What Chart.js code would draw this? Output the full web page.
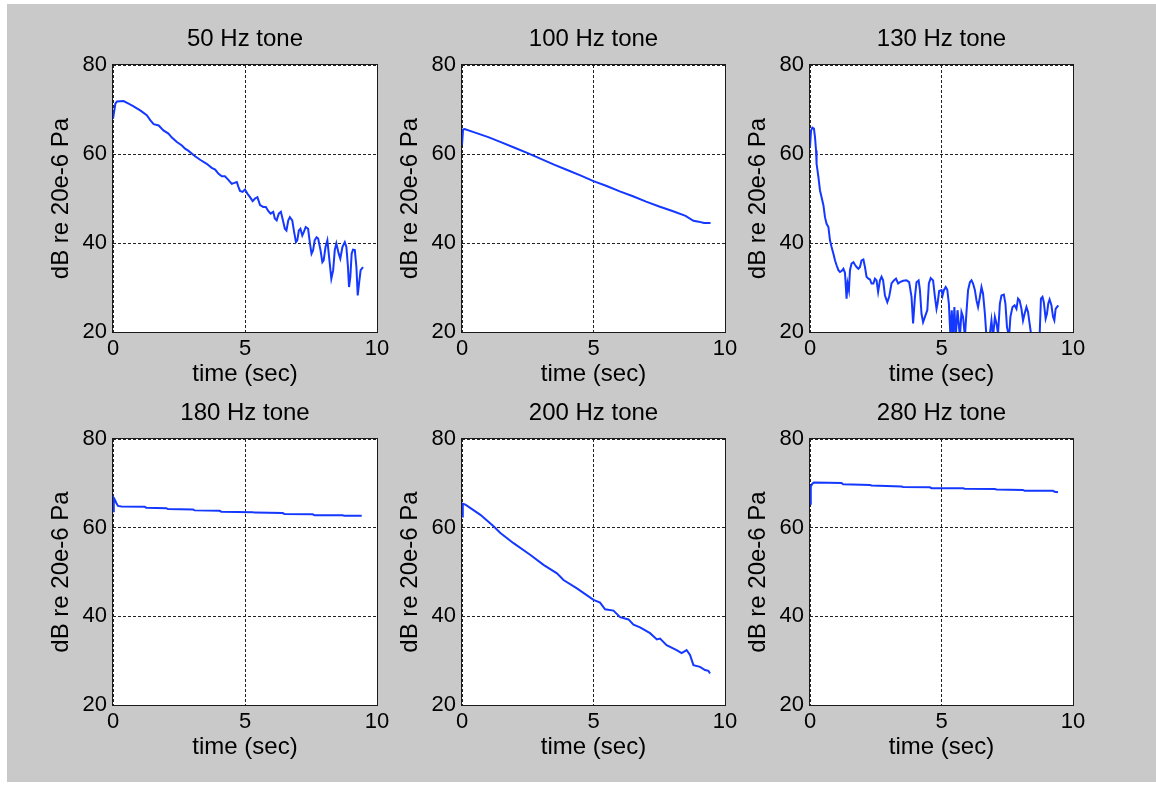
<!DOCTYPE html>
<html>
<head>
<meta charset="utf-8">
<script src="https://cdn.jsdelivr.net/npm/chart.js@4/dist/chart.umd.min.js"></script>
<style>
  html, body { margin: 0; padding: 0; background: #ffffff; width: 1156px; height: 789px; overflow: hidden; }
  #bg { position: absolute; left: 7px; top: 4px; width: 1149px; height: 778px; background: #c9c9c9; }
  canvas { position: absolute; }
</style>
</head>
<body>
<div id="bg"></div>
<canvas id="c1" width="350" height="367" style="left:43px;top:23px"></canvas>
<canvas id="c2" width="349" height="367" style="left:392px;top:23px"></canvas>
<canvas id="c3" width="349" height="367" style="left:740px;top:23px"></canvas>
<canvas id="c4" width="350" height="366" style="left:43px;top:397px"></canvas>
<canvas id="c5" width="349" height="366" style="left:392px;top:397px"></canvas>
<canvas id="c6" width="349" height="366" style="left:740px;top:397px"></canvas>
<script>
// ---- data (time in seconds, level in dB re 20e-6 Pa) ----
const titles = ["50 Hz tone", "100 Hz tone", "130 Hz tone", "180 Hz tone", "200 Hz tone", "280 Hz tone"];
const xTitle = "time (sec)";
const yTitle = "dB re 20e-6 Pa";

const t50  = [0, 0.09, 0.15, 0.40, 0.59, 0.78, 1.03, 1.28, 1.41, 1.54, 1.73, 1.91, 2.10, 2.23, 2.42, 2.61, 2.73, 2.86, 3.11, 3.30, 3.55, 3.74, 3.87, 3.99, 4.12, 4.24, 4.37, 4.50, 4.60, 4.69, 4.75, 4.81, 4.91, 5.00, 5.09, 5.19, 5.29, 5.38, 5.47, 5.57, 5.69, 5.79, 5.88, 5.97, 6.07, 6.13, 6.20, 6.28, 6.36, 6.42, 6.51, 6.57, 6.64, 6.70, 6.79, 6.86, 6.93, 6.98, 7.04, 7.10, 7.17, 7.23, 7.30, 7.39, 7.46, 7.52, 7.58, 7.64, 7.71, 7.77, 7.86, 7.93, 7.98, 8.05, 8.12, 8.21, 8.27, 8.34, 8.40, 8.46, 8.55, 8.61, 8.69, 8.78, 8.84, 8.90, 8.94, 8.99, 9.04, 9.09, 9.16, 9.22, 9.27, 9.32, 9.38, 9.47];
const db50 = [67.9, 71.3, 71.8, 71.9, 71.3, 70.7, 69.8, 68.7, 67.6, 66.7, 66.4, 65.3, 64.6, 63.7, 62.7, 61.9, 61.2, 60.7, 59.5, 58.7, 57.8, 56.9, 56.5, 55.6, 55.0, 55.0, 54.2, 53.3, 53.5, 53.7, 52.6, 51.7, 51.5, 52.0, 51.1, 50.3, 49.4, 50.0, 50.3, 48.5, 48.1, 48.1, 47.2, 46.6, 47.0, 45.5, 45.1, 46.6, 47.0, 45.5, 43.2, 42.8, 45.1, 45.8, 45.1, 42.5, 40.2, 40.6, 42.8, 43.2, 41.7, 42.5, 43.6, 43.2, 39.9, 37.6, 38.4, 40.6, 41.3, 41.0, 38.4, 35.7, 36.1, 39.1, 40.6, 35.4, 32.0, 33.9, 38.4, 39.9, 37.6, 36.5, 39.1, 40.2, 39.1, 34.6, 30.1, 32.4, 37.6, 38.5, 38.4, 34.6, 28.2, 30.9, 33.9, 34.6];

const t100  = [0, 0.04, 0.1, 0.5, 1.0, 1.5, 2.0, 2.5, 3.0, 3.5, 4.0, 4.5, 5.0, 5.5, 6.0, 6.5, 7.0, 7.5, 8.0, 8.5, 8.8, 9.0, 9.2, 9.45];
const db100 = [62.0, 65.5, 65.6, 64.8, 63.8, 62.6, 61.4, 60.2, 58.9, 57.6, 56.4, 55.2, 53.9, 52.8, 51.6, 50.5, 49.3, 48.2, 47.2, 46.1, 45.0, 44.8, 44.5, 44.5];

const t130  = [0, 0.04, 0.09, 0.15, 0.19, 0.23, 0.25, 0.32, 0.38, 0.44, 0.51, 0.57, 0.63, 0.70, 0.76, 0.82, 0.89, 0.95, 1.01, 1.08, 1.14, 1.20, 1.27, 1.33, 1.39, 1.43, 1.48, 1.52, 1.58, 1.65, 1.71, 1.77, 1.84, 1.90, 1.96, 2.03, 2.09, 2.15, 2.22, 2.28, 2.34, 2.41, 2.47, 2.53, 2.59, 2.66, 2.72, 2.78, 2.85, 2.94, 3.01, 3.10, 3.19, 3.27, 3.35, 3.42, 3.54, 3.67, 3.77, 3.86, 3.92, 3.99, 4.05, 4.13, 4.18, 4.24, 4.30, 4.37, 4.46, 4.52, 4.59, 4.68, 4.75, 4.81, 4.85, 4.91, 5.00, 5.04, 5.09, 5.16, 5.22, 5.28, 5.34, 5.39, 5.44, 5.49, 5.54, 5.61, 5.70, 5.76, 5.82, 5.89, 5.95, 6.01, 6.08, 6.14, 6.20, 6.27, 6.33, 6.39, 6.46, 6.52, 6.58, 6.65, 6.71, 6.84, 6.90, 6.96, 7.03, 7.09, 7.15, 7.22, 7.28, 7.37, 7.43, 7.49, 7.57, 7.62, 7.70, 7.78, 7.85, 7.91, 7.97, 8.04, 8.10, 8.16, 8.23, 8.29, 8.35, 8.42, 8.61, 8.73, 8.78, 8.84, 8.89, 8.96, 9.01, 9.06, 9.11, 9.18, 9.24, 9.29, 9.34, 9.39, 9.44];
const db130 = [61.6, 65.3, 65.9, 65.7, 63.8, 60.8, 57.8, 54.8, 51.8, 50.3, 48.5, 45.8, 44.3, 43.6, 40.6, 39.1, 37.6, 36.1, 35.0, 33.9, 33.5, 33.7, 34.2, 33.3, 27.5, 30.9, 29.4, 33.9, 35.4, 35.7, 35.1, 34.6, 34.2, 34.6, 36.1, 36.3, 34.6, 32.4, 32.0, 31.8, 30.9, 30.9, 32.0, 31.6, 29.0, 31.6, 32.4, 31.6, 28.2, 26.7, 27.9, 30.9, 31.6, 32.0, 30.9, 31.2, 31.5, 31.6, 31.2, 27.9, 21.9, 27.9, 31.2, 31.6, 29.4, 24.1, 22.2, 23.4, 24.9, 30.9, 32.1, 31.6, 27.9, 25.2, 26.4, 29.2, 29.4, 28.2, 29.4, 30.1, 29.5, 26.4, 18.9, 24.9, 18.9, 25.6, 18.9, 24.9, 18.9, 24.5, 23.4, 18.9, 24.5, 29.4, 31.2, 31.6, 30.9, 29.4, 27.1, 25.6, 27.9, 30.1, 28.6, 24.1, 18.9, 19.6, 22.6, 18.9, 23.4, 21.9, 19.6, 26.4, 28.2, 28.4, 26.4, 21.1, 18.9, 23.4, 25.6, 26.0, 25.2, 27.5, 27.1, 25.2, 22.6, 24.1, 25.6, 24.5, 21.9, 18.9, 18.0, 18.9, 27.5, 27.9, 26.7, 23.0, 24.1, 26.4, 27.3, 26.0, 23.4, 22.6, 25.2, 25.6, 26.0];

const t180  = [0, 0.03, 0.06, 0.13, 0.19, 0.32, 1.20, 1.26, 2.02, 2.08, 3.03, 3.09, 4.04, 4.10, 5.30, 5.36, 6.43, 6.49, 7.57, 7.63, 8.70, 8.76, 9.42];
const db180 = [63.7, 66.7, 66.4, 65.5, 64.9, 64.8, 64.7, 64.5, 64.4, 64.2, 64.1, 63.9, 63.8, 63.6, 63.5, 63.4, 63.3, 63.1, 63.0, 62.8, 62.8, 62.7, 62.7];

const t200  = [0, 0.03, 0.13, 0.70, 1.20, 1.46, 1.96, 2.59, 3.10, 3.61, 3.86, 4.37, 5.00, 5.25, 5.44, 5.76, 6.01, 6.33, 6.52, 6.77, 7.15, 7.41, 7.53, 7.78, 8.16, 8.35, 8.54, 8.67, 8.80, 9.05, 9.24, 9.37, 9.43];
const db200 = [62.5, 65.4, 65.2, 62.9, 60.3, 58.8, 56.5, 53.9, 51.6, 49.7, 48.2, 46.3, 43.7, 43.1, 41.6, 41.3, 39.8, 39.3, 38.1, 37.5, 36.2, 34.8, 35.0, 33.5, 32.4, 31.7, 32.4, 31.3, 29.0, 28.6, 27.9, 27.7, 27.1];

const t280  = [0, 0.03, 0.09, 0.15, 1.20, 1.26, 2.28, 2.34, 3.48, 3.54, 4.56, 4.62, 5.82, 5.88, 7.03, 7.09, 8.10, 8.16, 9.24, 9.30, 9.43];
const db280 = [65.4, 69.3, 69.9, 70.2, 70.1, 69.8, 69.6, 69.5, 69.3, 69.2, 69.1, 68.9, 68.9, 68.8, 68.7, 68.6, 68.5, 68.3, 68.3, 68.1, 68.0];

const series = [[t50, db50], [t100, db100], [t130, db130], [t180, db180], [t200, db200], [t280, db280]];

// ---- rendering ----
const FONT = "'Liberation Sans', Arial, Helvetica, sans-serif";
const frame = {
  id: 'frame',
  beforeDraw(chart) {
    const a = chart.chartArea, ctx = chart.ctx;
    ctx.save();
    ctx.fillStyle = '#ffffff';
    ctx.fillRect(a.left, a.top, a.right - a.left, a.bottom - a.top);
    ctx.restore();
  },
  afterDraw(chart) {
    const a = chart.chartArea, ctx = chart.ctx;
    ctx.save();
    ctx.strokeStyle = '#1a1a1a';
    ctx.lineWidth = 1;
    const l = Math.round(a.left) - 0.5, t = Math.round(a.top) - 0.5;
    const r = Math.round(a.right) + 0.5, b = Math.round(a.bottom) + 0.5;
    ctx.strokeRect(l, t, r - l, b - t);
    ctx.restore();
  }
};

function makeChart(id, idx) {
  const [tx, ty] = series[idx];
  const pts = tx.map((x, i) => ({x: x, y: ty[i]}));
  new Chart(document.getElementById(id), {
    type: 'line',
    data: { datasets: [{ data: pts, borderColor: '#1438ff', borderWidth: 2, pointRadius: 0, tension: 0, fill: false, clip: 0 }] },
    options: {
      responsive: false,
      animation: false,
      events: [],
      layout: { padding: { left: 0, top: 0, right: 16, bottom: 0 } },
      plugins: {
        legend: { display: false },
        tooltip: { enabled: false },
        title: {
          display: true, text: titles[idx], fullSize: false, color: '#000',
          font: { family: FONT, size: 24, weight: 'normal', lineHeight: 1.2 },
          padding: { top: 1.5, bottom: 11.7 }
        }
      },
      scales: {
        x: {
          type: 'linear', min: 0, max: 10,
          ticks: { stepSize: 5, color: '#000', padding: 3.5, maxRotation: 0, font: { family: FONT, size: 22, lineHeight: 1.2 } },
          grid: { color: '#222', lineWidth: 1, drawTicks: false },
          border: { display: false, dash: [3, 2] },
          title: { display: true, text: xTitle, color: '#000', padding: { top: 0, bottom: 1 }, font: { family: FONT, size: 24, lineHeight: 1.2 } },
          afterFit(s) { s.height = 58; }
        },
        y: {
          type: 'linear', min: 20, max: 80,
          ticks: { stepSize: 20, color: '#000', padding: 6, font: { family: FONT, size: 22, lineHeight: 1.2 } },
          grid: { color: '#222', lineWidth: 1, drawTicks: false },
          border: { display: false, dash: [3, 2] },
          title: { display: true, text: yTitle, color: '#000', padding: { top: 4.3, bottom: 0 }, font: { family: FONT, size: 24, lineHeight: 1.2 } },
          afterFit(s) { s.width = 70; }
        }
      }
    },
    plugins: [frame]
  });
}
['c1', 'c2', 'c3', 'c4', 'c5', 'c6'].forEach((id, i) => makeChart(id, i));
</script>
</body>
</html>
